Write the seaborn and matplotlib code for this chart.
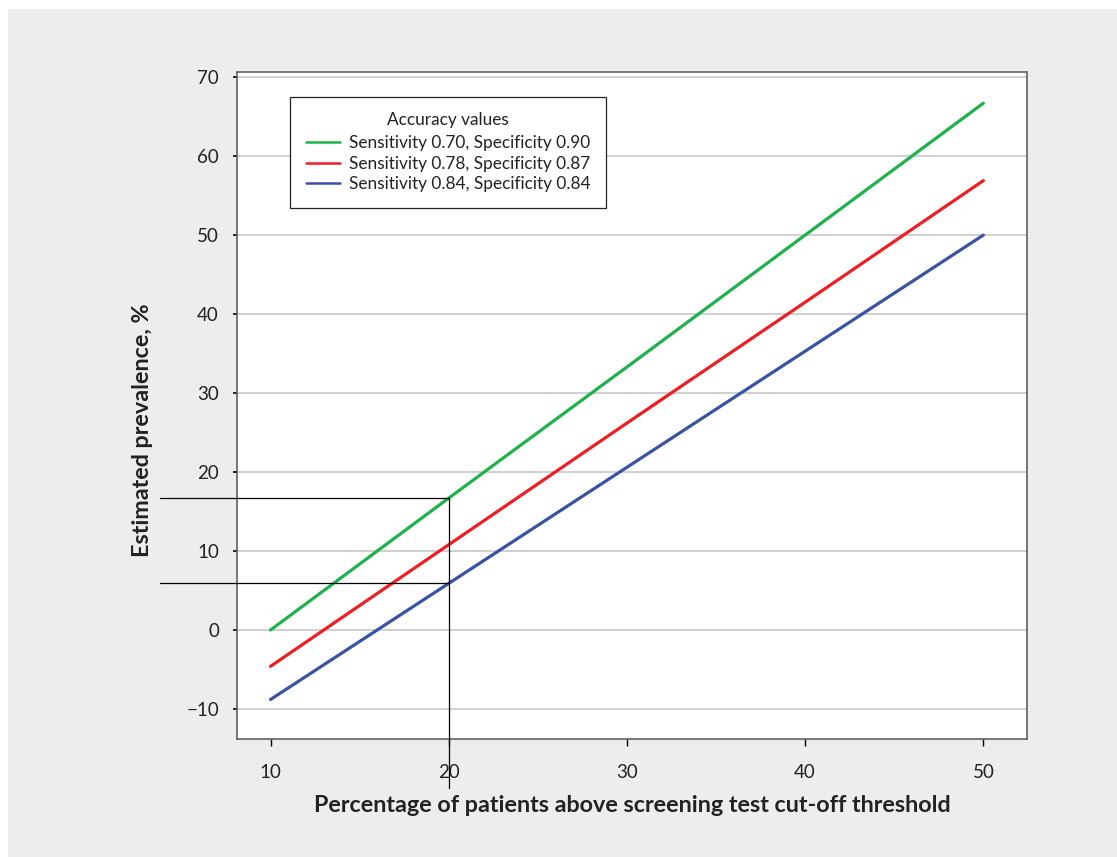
import matplotlib
matplotlib.use("Agg")
import matplotlib.pyplot as plt
from matplotlib.patches import Rectangle
from matplotlib.lines import Line2D
import seaborn as sns
import pandas as pd

# ---- data ----
x_pct = [10, 20, 30, 40, 50]
green_vals = [0.0, 16.7, 33.3, 50.0, 66.7]
red_vals = [-4.6, 10.8, 26.2, 41.5, 56.9]
blue_vals = [-8.8, 5.9, 20.6, 35.3, 50.0]
series_labels = [
    "Sensitivity 0.70, Specificity 0.90",
    "Sensitivity 0.78, Specificity 0.87",
    "Sensitivity 0.84, Specificity 0.84",
]
series_colors = ["#1db24b", "#ee1f24", "#3a52a3"]
yticks = [-10, 0, 10, 20, 30, 40, 50, 60, 70]
xticks = [10, 20, 30, 40, 50]
ref_x = 20
ref_ys = [16.7, 5.9]

rows = []
for lab, vals in zip(series_labels, [green_vals, red_vals, blue_vals]):
    for xv, yv in zip(x_pct, vals):
        rows.append({"x": xv, "y": yv, "series": lab})
df = pd.DataFrame(rows)

sns.set_theme(style="white")
plt.rcParams["font.family"] = ["Lato", "DejaVu Sans"]

W, H = 1117, 857
fig = plt.figure(figsize=(W / 100, H / 100), dpi=100, facecolor="white")
fig.patches.append(Rectangle((8 / W, 0), 1 - 8 / W, 1 - 9 / H, transform=fig.transFigure,
                             facecolor="#ededed", edgecolor="none", zorder=-10))
ax = fig.add_axes([237 / W, 1 - 739 / H, (1027 - 237) / W, (739 - 72) / H])
ax.set_facecolor("white")

sns.lineplot(data=df, x="x", y="y", hue="series", palette=series_colors,
             linewidth=2.3, ax=ax, legend=False, zorder=3)

ax.set_xlim(8.12, 52.45)
ax.set_ylim(-13.8, 70.65)
ax.set_xticks(xticks)
ax.set_yticks(yticks)
ax.set_yticklabels(["\u221210" if v < 0 else str(v) for v in yticks])

ax.yaxis.grid(True, color="#c8c8c8", linewidth=1.2, zorder=1)
ax.xaxis.grid(False)

for s in ax.spines.values():
    s.set_color("#555555")
    s.set_linewidth(1.1)

ax.tick_params(axis="y", which="both", left=True, length=3, width=1.2, color="black",
               pad=10, labelsize=13.5, labelcolor="#222222")
ax.tick_params(axis="x", which="both", bottom=True, length=5, width=1.0, color="black",
               pad=13, labelsize=13.5, labelcolor="#222222")

# reference lines
ax.plot([3.8, ref_x], [ref_ys[0], ref_ys[0]], color="black", linewidth=0.9, clip_on=False, zorder=4)
ax.plot([3.8, ref_x], [ref_ys[1], ref_ys[1]], color="black", linewidth=0.9, clip_on=False, zorder=4)
ax.plot([ref_x, ref_x], [-20.0, ref_ys[0]], color="black", linewidth=0.9, clip_on=False, zorder=4)

ax.set_xlabel("Percentage of patients above screening test cut-off threshold",
              fontsize=16.8, fontweight="bold", color="#222222")
ax.set_ylabel("Estimated prevalence, %", fontsize=16.8, fontweight="bold", color="#222222")
ax.xaxis.set_label_coords(0.5, -(806 - 739) / (739 - 72))
ax.xaxis.label.set_va("center")
ax.yaxis.set_label_coords((143 - 237) / (1027 - 237), (739 - 430) / (739 - 72))
ax.yaxis.label.set_va("center")

handles = [Line2D([0], [0], color=c, linewidth=1.8) for c in series_colors]
leg = ax.legend(handles, series_labels, title="Accuracy values", loc="upper left",
                bbox_to_anchor=((290 - 237) / 790, (739 - 97) / 667), borderaxespad=0,
                fontsize=12.4, title_fontsize=12.4, frameon=True, fancybox=False,
                edgecolor="#222222", handlelength=2.0, handletextpad=0.5,
                labelspacing=0.25, borderpad=0.9)
leg.get_frame().set_linewidth(0.9)
leg.get_frame().set_alpha(1)
leg._legend_box.sep = 5
for t in leg.get_texts():
    t.set_color("#222222")
leg.get_title().set_color("#222222")

fig.savefig("out.png", dpi=100, facecolor=fig.get_facecolor())
